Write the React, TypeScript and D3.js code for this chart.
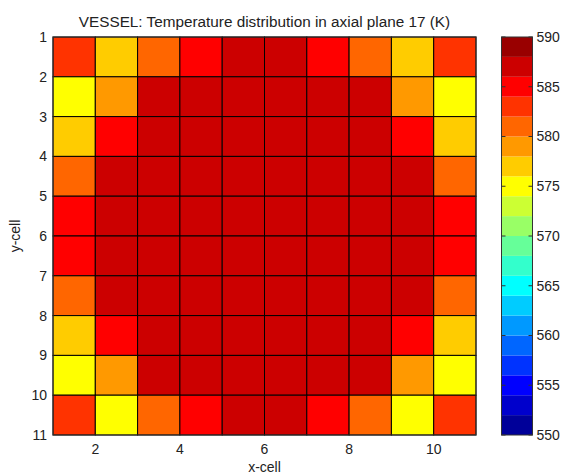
import React from "react";
import * as d3 from "d3";

const title = "VESSEL: Temperature distribution in axial plane 17 (K)";
const xLabel = "x-cell";
const yLabel = "y-cell";

// Temperature (K) per cell, rows y=1..10 (top to bottom), columns x=1..10
const row1 = [583.1, 577.2, 581.3, 585.2, 587.1, 587.1, 585.2, 581.3, 577.2, 583.1];
const row2 = [575.3, 579.1, 587.0, 587.4, 587.6, 587.6, 587.4, 587.0, 579.1, 575.3];
const row3 = [577.4, 585.5, 587.5, 587.8, 587.9, 587.9, 587.8, 587.5, 585.5, 577.4];
const row4 = [581.2, 586.9, 587.7, 587.9, 587.9, 587.9, 587.9, 587.7, 586.9, 581.2];
const row5 = [584.9, 587.2, 587.8, 587.9, 587.9, 587.9, 587.9, 587.8, 587.2, 584.9];
const row6 = [584.9, 587.2, 587.8, 587.9, 587.9, 587.9, 587.9, 587.8, 587.2, 584.9];
const row7 = [581.2, 586.9, 587.7, 587.9, 587.9, 587.9, 587.9, 587.7, 586.9, 581.2];
const row8 = [577.4, 585.5, 587.5, 587.8, 587.9, 587.9, 587.8, 587.5, 585.5, 577.4];
const row9 = [575.3, 579.1, 587.0, 587.4, 587.6, 587.6, 587.4, 587.0, 579.1, 575.3];
const row10 = [583.1, 575.6, 581.3, 585.2, 587.1, 587.1, 585.2, 581.3, 575.6, 583.1];
const rows = [row1, row2, row3, row4, row5, row6, row7, row8, row9, row10];

const xTicks = [2, 4, 6, 8, 10];
const yTicks = [1, 2, 3, 4, 5, 6, 7, 8, 9, 10, 11];
const cbTicks = [550, 555, 560, 565, 570, 575, 580, 585, 590];
const cbDomain = [550, 590];

// MATLAB jet(20)
function jet(n: number): string[] {
  const m = Math.ceil(n / 4);
  const u: number[] = [];
  for (let i = 1; i <= m; i++) u.push(i / m);
  for (let i = 0; i < m - 1; i++) u.push(1);
  for (let i = m; i >= 1; i--) u.push(i / m);
  const g0 = Math.ceil(m / 2) - (n % 4 === 1 ? 1 : 0);
  const R = new Array(n).fill(0), G = new Array(n).fill(0), B = new Array(n).fill(0);
  u.forEach((v, k) => {
    const g = g0 + k + 1;
    const r = g + m;
    const b = g - m;
    if (r >= 1 && r <= n) R[r - 1] = v;
    if (g >= 1 && g <= n) G[g - 1] = v;
    if (b >= 1 && b <= n) B[b - 1] = v;
  });
  return R.map((_, i) => d3.rgb(R[i] * 255, G[i] * 255, B[i] * 255).formatHex());
}
const jetColors = jet(20);

const W = 566, H = 474;
const plot = { left: 53, right: 476, top: 37, bottom: 435 };
const cb = { left: 501.5, right: 532.5 };
const font = "'Liberation Sans', Arial, sans-serif";

export default function App() {
  const x = d3.scaleLinear().domain([1, 11]).range([plot.left, plot.right]);
  const y = d3.scaleLinear().domain([1, 11]).range([plot.top, plot.bottom]);
  const color = d3.scaleQuantize<string>().domain(cbDomain).range(jetColors);
  const cy = d3.scaleLinear().domain(cbDomain).range([plot.bottom, plot.top]);
  const step = (cbDomain[1] - cbDomain[0]) / jetColors.length;

  return (
    <svg width={W} height={H} style={{ position: "absolute", left: 0, top: 0, background: "#fff" }}>
      <rect width={W} height={H} fill="#fff" />
      {rows.map((r, j) =>
        r.map((v, i) => (
          <rect
            key={`${i}-${j}`}
            x={x(i + 1)}
            y={y(j + 1)}
            width={x(i + 2) - x(i + 1)}
            height={y(j + 2) - y(j + 1)}
            fill={color(v)}
            stroke="#000"
            strokeWidth={1}
          />
        ))
      )}
      <rect x={plot.left} y={plot.top} width={plot.right - plot.left} height={plot.bottom - plot.top}
        fill="none" stroke="#333" strokeWidth={1} />
      {yTicks.map((t) => (
        <text key={`y${t}`} x={plot.left - 6} y={y(t)} dy="0.35em" textAnchor="end"
          fontFamily={font} fontSize={14} fill="#222">{t}</text>
      ))}
      {xTicks.map((t) => (
        <text key={`x${t}`} x={x(t)} y={plot.bottom + 19} textAnchor="middle"
          fontFamily={font} fontSize={14} fill="#222">{t}</text>
      ))}
      <text x={(plot.left + plot.right) / 2} y={472} textAnchor="middle" fontFamily={font} fontSize={14} fill="#222">{xLabel}</text>
      <text transform={`translate(19.5,${(plot.top + plot.bottom) / 2}) rotate(-90)`} textAnchor="middle"
        fontFamily={font} fontSize={14} fill="#222">{yLabel}</text>
      <text x={(plot.left + plot.right) / 2} y={27} textAnchor="middle" fontFamily={font} fontSize={15.3} fill="#222">{title}</text>

      {jetColors.map((c, k) => (
        <rect key={`cb${k}`} x={cb.left} y={cy(cbDomain[0] + (k + 1) * step)} width={cb.right - cb.left}
          height={cy(cbDomain[0] + k * step) - cy(cbDomain[0] + (k + 1) * step)} fill={c} />
      ))}
      <rect x={cb.left} y={plot.top} width={cb.right - cb.left} height={plot.bottom - plot.top}
        fill="none" stroke="#333" strokeWidth={1} />
      {cbTicks.map((t) => (
        <g key={`cbt${t}`}>
          <line x1={cb.left} x2={cb.left + 4} y1={cy(t)} y2={cy(t)} stroke="#333" />
          <line x1={cb.right - 4} x2={cb.right} y1={cy(t)} y2={cy(t)} stroke="#333" />
          <text x={cb.right + 4} y={cy(t)} dy="0.35em" fontFamily={font} fontSize={14} fill="#222">{t}</text>
        </g>
      ))}
    </svg>
  );
}
